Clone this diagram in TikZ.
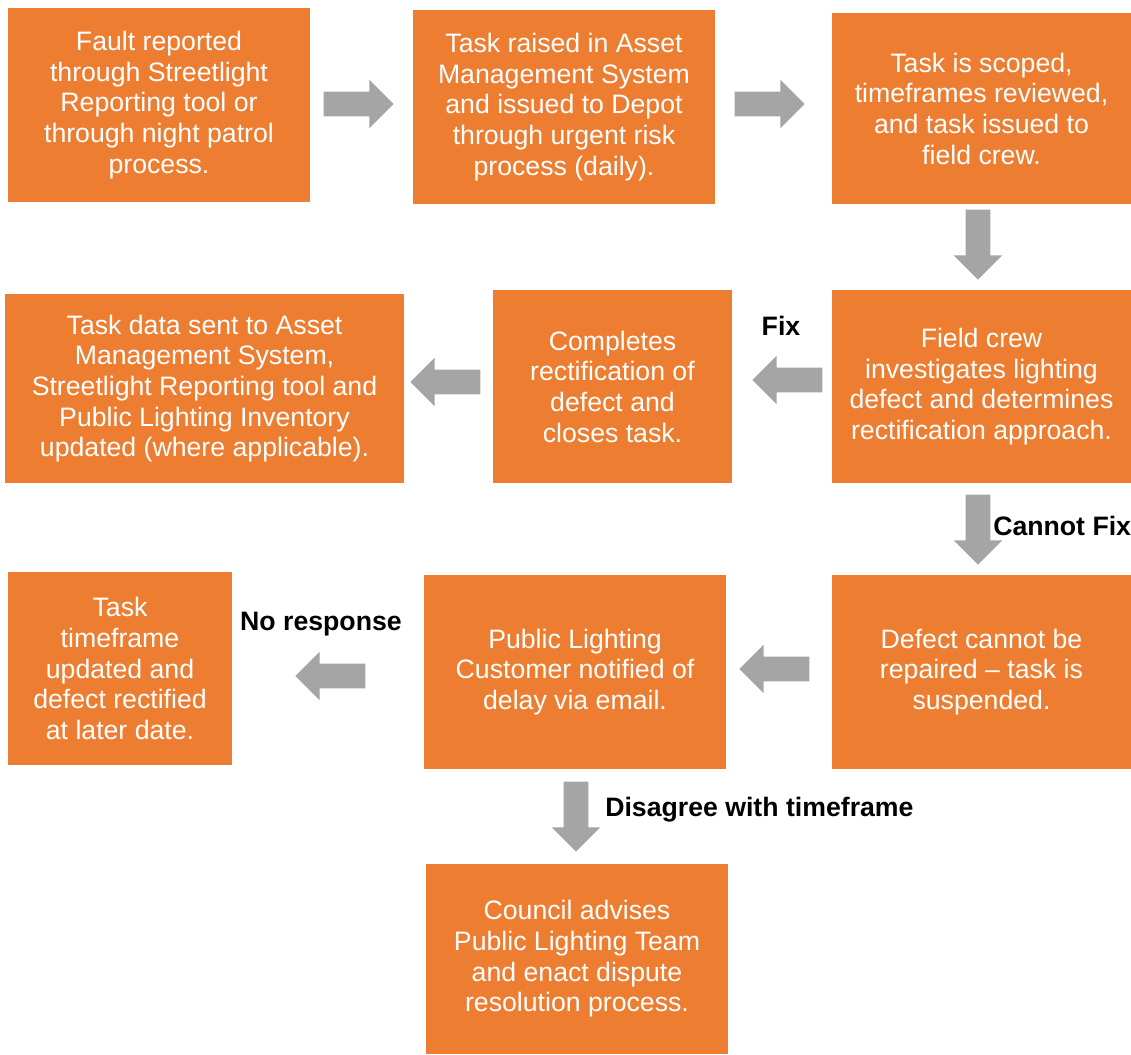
\documentclass[tikz,border=0pt]{standalone}
\usepackage{fontspec}
\setmainfont{Liberation Sans}
\usetikzlibrary{shapes.arrows,calc,positioning}
\definecolor{stepOrange}{HTML}{ED7D31}
\definecolor{arrowGrey}{HTML}{A5A5A5}
\tikzset{
	task/.style={fill=stepOrange, text=white, align=center, inner sep=0pt,
		font=\fontsize{20}{23}\selectfont},
	flow/.style={single arrow, fill=arrowGrey, draw=none, inner sep=9pt, anchor=tail,
		minimum height=52.5pt, single arrow head extend=9pt},
	tag/.style={font=\bfseries\fontsize{20}{23}\selectfont, inner sep=0pt}
}
\begin{document}
\begin{tikzpicture}[x=0.75pt,y=-0.75pt]
	\useasboundingbox (0,0) rectangle (1131,1055);
	% first row
	\node[task, minimum width=226.5pt, minimum height=145.5pt] (fault) at (159,105)
		{Fault reported\\through Streetlight\\Reporting tool or\\through night patrol\\process.};
	\node[task, minimum width=226.5pt, minimum height=145.5pt] (raised) at (564,107)
		{Task raised in Asset\\Management System\\and issued to Depot\\through urgent risk\\process (daily).};
	\node[task, minimum width=224.25pt, minimum height=143.25pt] (scoped) at (981.5,108.5)
		{Task is scoped,\\timeframes reviewed,\\and task issued to\\field crew.};
	% second row
	\node[task, minimum width=299.25pt, minimum height=141.75pt] (sent) at (204.5,388.5)
		{Task data sent to Asset\\Management System,\\Streetlight Reporting tool and\\Public Lighting Inventory\\updated (where applicable).};
	\node[task, minimum width=179.25pt, minimum height=144.75pt] (closes) at (612.5,386.5)
		{Completes\\rectification of\\defect and\\closes task.};
	\node[task, minimum width=224.25pt, minimum height=144.75pt] (crew) at (981.5,386.5)
		{Field crew\\investigates lighting\\defect and determines\\rectification approach.};
	% third row
	\node[task, minimum width=168pt, minimum height=144.75pt] (later) at (120,668.5)
		{Task\\timeframe\\updated and\\defect rectified\\at later date.};
	\node[task, minimum width=226.5pt, minimum height=145.5pt] (notified) at (575,672)
		{Public Lighting\\Customer notified of\\delay via email.};
	\node[task, minimum width=224.25pt, minimum height=145.5pt] (suspended) at (981.5,672)
		{Defect cannot be\\repaired -- task is\\suspended.};
	% last row
	\node[task, minimum width=226.5pt, minimum height=142.5pt] (dispute) at (577,959)
		{Council advises\\Public Lighting Team\\and enact dispute\\resolution process.};

	% arrows between the boxes
	\node[flow] (a1) at ($(fault.east)+(13,-1)$) {};
	\node[flow] (a2) at ($(raised.east)+(19,-3)$) {};
	\node[flow, shape border rotate=270] (a3) at ($(scoped.south)+(-3.5,5)$) {};
	\node[flow, shape border rotate=180] (a4) at ($(crew.west)+(-9,-6.5)$) {};
	\node[flow, shape border rotate=180] (a5) at ($(closes.west)+(-12,-4.5)$) {};
	\node[flow, shape border rotate=270] (a6) at ($(crew.south)+(-3.5,11)$) {};
	\node[flow, shape border rotate=180] (a7) at ($(suspended.west)+(-22,-3)$) {};
	\node[flow, shape border rotate=180] (a8) at ($(notified.west)+(-58,4)$) {};
	\node[flow, shape border rotate=270] (a9) at ($(notified.south)+(1,12)$) {};

	% branch labels
	\node[tag] (fix) at (781,326) {Fix};
	\node[tag, anchor=west] (cannot) at (993,526) {Cannot Fix};
	\node[tag] (noresp) at (321,624) {No response};
	\node[tag, anchor=west] (disagree) at (605,810) {Disagree with timeframe};
\end{tikzpicture}
\end{document}
